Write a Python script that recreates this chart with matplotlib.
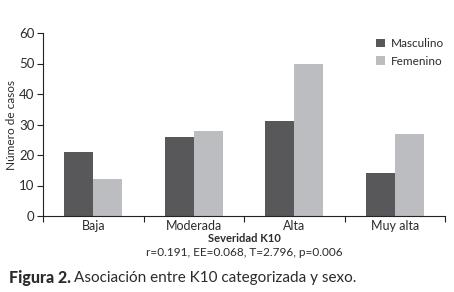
import matplotlib
matplotlib.use("Agg")
import matplotlib.pyplot as plt
import numpy as np

categories = ["Baja", "Moderada", "Alta", "Muy alta"]
masculino = [21, 26, 31, 14]
femenino = [12, 28, 50, 27]
series_names = ["Masculino", "Femenino"]
yticks = [0, 10, 20, 30, 40, 50, 60]

plt.rcParams['font.family'] = ['Lato', 'DejaVu Sans']
txt = '#2b2b2b'
c_m = '#58585a'
c_f = '#bcbdc0'

fig = plt.figure(figsize=(4.54, 2.92), dpi=100)
ax = fig.add_axes([43/454, 1-216/292, (445-43)/454, (216-33)/292])

x = np.arange(len(categories))
w = 0.287
ax.bar(x - w/2, masculino, w, color=c_m, label=series_names[0])
ax.bar(x + w/2, femenino, w, color=c_f, label=series_names[1])

ax.set_xlim(-0.5, len(categories) - 0.5)
ax.set_ylim(0, 60)
ax.set_yticks(yticks)
ax.set_xticks(x)
ax.set_xticklabels(categories)
ax.set_xticks(np.arange(len(categories) + 1) - 0.5, minor=True)
ax.tick_params(axis='x', which='major', length=0, pad=3, labelsize=9, colors=txt)
ax.tick_params(axis='x', which='minor', length=4, width=0.8, color='#222')
ax.tick_params(axis='y', length=4, width=0.8, color='#222', labelsize=9.5, labelcolor=txt, pad=2)
for s in ['top', 'right']:
    ax.spines[s].set_visible(False)
for s in ['left', 'bottom']:
    ax.spines[s].set_color('#222')
    ax.spines[s].set_linewidth(0.8)

ax.set_ylabel("Número de casos", fontsize=8.5, color=txt, labelpad=2)

leg = ax.legend(loc='upper right', bbox_to_anchor=(1.025, 1.03), frameon=False,
                fontsize=8.5, handlelength=0.75, handleheight=0.75, handletextpad=0.5,
                labelspacing=0.55, labelcolor=txt)

fig.text(0.5 * (43 + 445) / 454, 1 - 239/292, "Severidad K10", ha='center', va='center',
         fontsize=8, fontweight='bold', color=txt)
fig.text(0.5 * (43 + 445) / 454, 1 - 252/292, "r=0.191, EE=0.068, T=2.796, p=0.006",
         ha='center', va='center', fontsize=8.5, color=txt)
t = fig.text(9/454, 1 - 278/292, "Figura 2.", ha='left', va='center', fontsize=11.5,
             fontweight=900, color=txt)
fig.canvas.draw()
bb = t.get_window_extent()
fig.text((bb.x1 + 3) / fig.bbox.width, 1 - 278/292, "Asociación entre K10 categorizada y sexo.",
         ha='left', va='center', fontsize=11, color=txt)

fig.savefig("out.png", dpi=100)
